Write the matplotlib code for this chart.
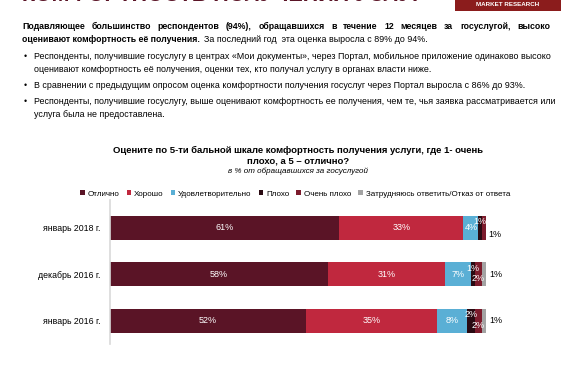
import matplotlib.pyplot as plt
import numpy as np
from matplotlib.patches import Rectangle

plt.rcParams['font.family'] = ['Liberation Sans', 'DejaVu Sans']

# data
periods = ['январь 2016 г.', 'декабрь 2016 г.', 'январь 2018 г.']
series = ['Отлично', 'Хорошо', 'Удовлетворительно', 'Плохо', 'Очень плохо',
          'Затрудняюсь ответить/Отказ от ответа']
excellent = [52, 58, 61]
good = [35, 31, 33]
satisfactory = [8, 7, 4]
bad = [2, 1, 1]
very_bad = [2, 2, 1]
no_answer = [1, 1, 0]

colors = ['#5a1426', '#c0283e', '#5aafd5', '#2a0a12', '#7c1b2c', '#a3a3a3']

W, H = 570, 380
fig = plt.figure(figsize=(5.7, 3.8), dpi=100)
renderer = fig.canvas.get_renderer()


def fy(py):
    return 1 - py / H


def fx(px):
    return px / W


def line_text(x, y, s, **kw):
    # y is the visual middle of the line (pixels), text sits on a baseline
    return fig.text(fx(x), fy(y + 2.4), s, va='baseline', **kw)


def width_px(s, **kw):
    t = fig.text(0, 0, s, **kw)
    w = t.get_window_extent(renderer).width
    t.remove()
    return w


def justified(x0, x1, y, line, **kw):
    # spread words between x0 and x1 (pixels)
    words = line.split()
    ws = [width_px(w, **kw) for w in words]
    gap = (x1 - x0 - sum(ws)) / (len(words) - 1)
    x = x0
    for w, wd in zip(words, ws):
        line_text(x, y, w, **kw)
        x += wd + gap


# cut-off header and logo
fig.text(fx(22), fy(1), 'КОМФОРТНОСТЬ ПОЛУЧЕНИЯ УСЛУГ', fontsize=15.5, fontweight='bold',
         color='#5a1426', va='baseline', ha='left')
fig.patches.append(Rectangle((fx(455), fy(11)), fx(106), 11 / H, transform=fig.transFigure,
                             facecolor='#8b1c1c', edgecolor='none'))
fig.text(fx(508), fy(5), 'MARKET RESEARCH', fontsize=4.5, color='white', ha='center',
         va='center', fontweight='bold')

# text block
fs = 6.4
fb = 6.3
justified(22, 550, 27, 'Подавляющее большинство респондентов (94%), обращавшихся в течение 12 месяцев за госуслугой, высоко',
          fontsize=fb, fontweight='bold')
bold2 = 'оценивают комфортность её получения.'
line_text(22, 40, bold2, fontsize=fb, fontweight='bold')
x2 = 22 + width_px(bold2, fontsize=fb, fontweight='bold') + 4
line_text(x2, 40, 'За последний год  эта оценка выросла с 89% до 94%.', fontsize=fs)

bullets = [
    (57, ['Респонденты, получившие госуслугу в центрах «Мои документы», через Портал, мобильное приложение одинаково высоко',
          'оценивают комфортность её получения, оценки тех, кто получал услугу в органах власти ниже.']),
    (86, ['В сравнении с предыдущим опросом оценка комфортности получения госуслуг через Портал выросла с 86% до 93%.']),
    (102, ['Респонденты, получившие госуслугу, выше оценивают комфортность ее получения, чем те, чья заявка рассматривается или',
           'услуга была не предоставлена.']),
]
for y0, lines in bullets:
    line_text(24, y0, '•', fontsize=fs)
    for i, ln in enumerate(lines):
        line_text(34, y0 + 13 * i, ln, fontsize=fs)

# chart title
fig.text(fx(298), fy(150), 'Оцените по 5-ти бальной шкале комфортность получения услуги, где 1- очень',
         fontsize=6.8, fontweight='bold', ha='center', va='center')
fig.text(fx(298), fy(161), 'плохо, а 5 – отлично?', fontsize=6.8, fontweight='bold', ha='center', va='center')
fig.text(fx(298), fy(171.5), 'в % от обращавшихся за госуслугой', fontsize=5.8, style='italic',
         ha='center', va='center')

# bars: 110 -> 486 px, rows centred at 228 / 274.5 / 321
ax = fig.add_axes([fx(110), fy(344), fx(376), 144 / H])
data = [excellent, good, satisfactory, bad, very_bad, no_answer]
y = np.arange(len(periods))
left = np.zeros(len(periods))
handles = []
for k, (vals, c, name) in enumerate(zip(data, colors, series)):
    vals = np.array(vals, dtype=float)
    b = ax.barh(y, vals, left=left, height=0.52, color=c, edgecolor='none', label=name)
    handles.append(b)
    for i, v in enumerate(vals):
        if v == 0:
            continue
        cx = left[i] + v / 2
        if k < 3:
            ax.text(cx, y[i], f'{int(v)}%', color='white', fontsize=6.5, ha='center', va='center')
        elif k == 3:
            ax.text(cx, y[i] + 0.13, f'{int(v)}%', color='white', fontsize=6.5, ha='center', va='center')
        elif k == 4:
            if i == 2:
                ax.text(100.5, y[i] - 0.15, f'{int(v)}%', color='black', fontsize=6.5, ha='left', va='center')
            else:
                ax.text(cx, y[i] - 0.1, f'{int(v)}%', color='white', fontsize=6.5, ha='center', va='center')
        else:
            ax.text(101, y[i], f'{int(v)}%', color='black', fontsize=6.5, ha='left', va='center')
    left += vals

ax.set_xlim(0, 100)
ax.set_ylim(-0.5, 2.6)
ax.set_yticks(y)
ax.set_yticklabels(periods, fontsize=6.3)
ax.set_xticks([])
ax.tick_params(axis='y', length=0, pad=7)
for s in ['top', 'right', 'bottom']:
    ax.spines[s].set_visible(False)
ax.spines['left'].set_color('#d9d9d9')
ax.spines['left'].set_linewidth(1.2)

fig.legend(handles=handles, loc='center', bbox_to_anchor=(fx(295), fy(194)), ncol=6,
           fontsize=5.8, frameon=False, handlelength=0.6, handleheight=0.6, handletextpad=0.3,
           columnspacing=0.9)

fig.savefig('out.png', dpi=100)
